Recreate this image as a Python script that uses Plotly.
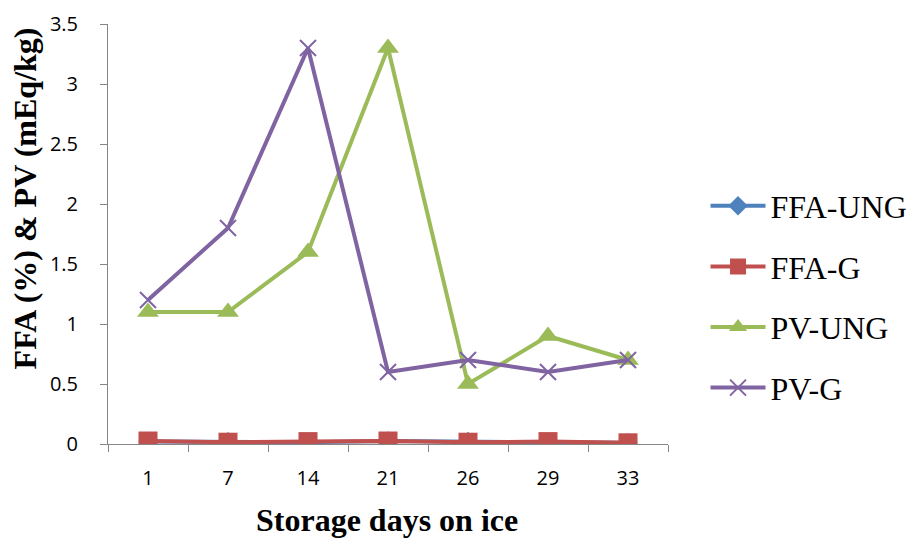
import plotly.graph_objects as go

days = ["1", "7", "14", "21", "26", "29", "33"]
ffa_ung = [0.02, 0.018, 0.015, 0.025, 0.02, 0.012, 0.01]
ffa_g = [0.025, 0.015, 0.02, 0.025, 0.015, 0.02, 0.01]
pv_ung = [1.1, 1.1, 1.6, 3.3, 0.5, 0.9, 0.7]
pv_g = [1.2, 1.8, 3.3, 0.6, 0.7, 0.6, 0.7]
y_ticks = [0, 0.5, 1, 1.5, 2, 2.5, 3, 3.5]
y_tick_text = ["0", "0.5", "1", "1.5", "2", "2.5", "3", "3.5"]
x_title = "Storage days on ice"
y_title = "FFA (%) &amp; PV (mEq/kg)"

series = [
    ("FFA-UNG", ffa_ung, "#4F81BD", dict(symbol="diamond", size=15)),
    ("FFA-G", ffa_g, "#C0504D", dict(symbol="square", size=19)),
    ("PV-UNG", pv_ung, "#9BBB59", dict(symbol="triangle-up", size=19)),
    ("PV-G", pv_g, "#8064A2", dict(symbol="x-thin", size=16, line=dict(width=2, color="#8064A2"))),
]

fig = go.Figure()
for i, (name, vals, color, marker) in enumerate(series):
    fig.add_trace(go.Scatter(
        x=days, y=vals, name=name, mode="lines+markers",
        line=dict(color=color, width=4),
        marker=dict(color=color, **marker),
        legendgroup=f"g{i}",
    ))

title_font = dict(family="Liberation Serif", size=32, color="black")
fig.add_annotation(text=f"<b>{x_title}</b>", xref="paper", yref="paper",
                   x=0.498, y=-0.181, xanchor="center", yanchor="middle",
                   showarrow=False, font=title_font)
fig.add_annotation(text=f"<b>{y_title}</b>", xref="paper", yref="paper",
                   x=-0.148, y=0.585, xanchor="center", yanchor="middle",
                   textangle=-90, showarrow=False, font=dict(family="Liberation Serif", size=32, color="black"))

fig.update_layout(
    width=908, height=538,
    margin=dict(l=108, r=240, t=24, b=94, autoexpand=False),
    paper_bgcolor="white", plot_bgcolor="white",
    showlegend=True,
    legend=dict(
        x=1.067, y=0.35, xanchor="left", yanchor="middle",
        font=dict(family="Liberation Serif", size=32, color="black"),
        tracegroupgap=16, traceorder="grouped",
        itemwidth=55,
    ),
    xaxis=dict(
        type="category", showgrid=False, showline=True, linecolor="#868686", linewidth=1,
        ticks="outside", tickson="boundaries", tickcolor="#868686", ticklen=7,
        ticklabelstandoff=16,
        tickfont=dict(family="Open Sans", size=20, color="black"),
        range=[-0.5, 6.5],
    ),
    yaxis=dict(
        range=[0, 3.5], tickvals=y_ticks, ticktext=y_tick_text,
        showgrid=False, showline=True, linecolor="#868686", linewidth=1,
        ticks="outside", tickcolor="#868686", ticklen=7, zeroline=False,
        ticklabelstandoff=18,
        tickfont=dict(family="Open Sans", size=20, color="black"),
    ),
)

fig.write_html("out.html")
